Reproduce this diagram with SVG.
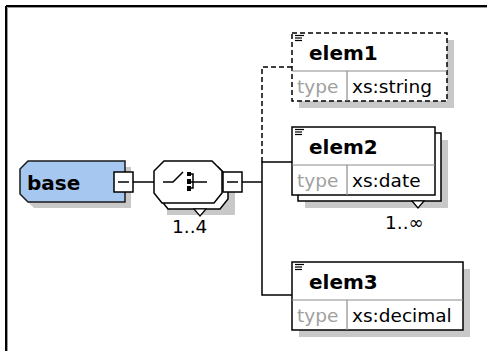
<svg xmlns="http://www.w3.org/2000/svg" width="487" height="351" viewBox="0 0 487 351">
<style>
.ln{stroke:#000;stroke-width:1.5;fill:none}
.dash{stroke:#000;stroke-width:1.5;fill:none;stroke-dasharray:5,3}
.box{fill:#fff;stroke:#000;stroke-width:1.5}
.sh{fill:#c8c8c8}
.div{stroke:#8c8c8c;stroke-width:1.2}
.nm{font-family:"DejaVu Sans",Verdana,sans-serif;font-weight:bold;font-size:20px;fill:#000}
.ty{font-family:"DejaVu Sans",Verdana,sans-serif;font-size:18.5px;fill:#a0a0a0}
.vl{font-family:"DejaVu Sans",Verdana,sans-serif;font-size:18.5px;fill:#000}
.oc{font-family:"DejaVu Sans",Verdana,sans-serif;font-size:18.5px;fill:#000}
.doc{stroke:#000;stroke-width:1.2}
</style>
<rect width="487" height="351" fill="#fff"/>
<g id="frame">
<line x1="6" y1="6" x2="487" y2="6" stroke="#000" stroke-width="2"/>
<line x1="6" y1="6" x2="6" y2="351" stroke="#000" stroke-width="2"/>
<line x1="7.5" y1="7.5" x2="487" y2="7.5" stroke="#999" stroke-width="1"/>
<line x1="7.5" y1="7.5" x2="7.5" y2="351" stroke="#999" stroke-width="1"/>
</g>
<g id="connectors">
<line class="ln" x1="133" y1="182" x2="154" y2="182"/>
<line class="ln" x1="242" y1="182" x2="262" y2="182"/>
<polyline class="ln" points="292,162 262,162 262,295 292,295"/>
<polyline class="dash" points="262,162 262,67 292,67"/>
</g>
<g id="base">
<polygon class="sh" points="34,167 131,167 131,208 34,208 26,200 26,175"/>
<polygon points="28,161 125,161 125,202 28,202 20,194 20,169" fill="#a6c8f0" stroke="#1a1a1a" stroke-width="1.5"/>
<text class="nm" x="27" y="190">base</text>
<rect class="box" x="114" y="172" width="19" height="20"/>
<line class="ln" x1="118" y1="182" x2="129" y2="182"/>
</g>
<g id="sequence">
<polygon class="sh" points="177,179 227,179 235,187 235,215 167,215 167,187"/>
<polygon class="box" points="170,167 218,167 228,177 228,199 220,209 168,209 160,199 160,177"/>
<polygon fill="#fff" stroke="#000" stroke-width="1.2" points="194,209 206,209 200,216"/>
<polygon class="box" points="164,161 212,161 222,171 222,193 214,203 162,203 154,193 154,171"/>
<polyline class="ln" points="163,182 173,182 183,172"/>
<rect x="187" y="172" width="4" height="4" fill="#000"/>
<rect x="187" y="179" width="4" height="5" fill="#000"/>
<rect x="187" y="186" width="4" height="5" fill="#000"/>
<polyline class="ln" points="191,174 193,174 193,188 191,188"/>
<line class="ln" x1="191" y1="182" x2="207" y2="182"/>
<rect class="box" x="223" y="172" width="19" height="20"/>
<line class="ln" x1="227" y1="182" x2="238" y2="182"/>
<text class="oc" x="172" y="233">1..4</text>
</g>
<g id="elem1">
<rect class="sh" x="299" y="40" width="155" height="68"/>
<rect x="292" y="33" width="155" height="68" fill="#fff" stroke="#000" stroke-width="1.5" stroke-dasharray="5,3"/>
<line class="div" x1="292" y1="71" x2="447" y2="71"/>
<line class="div" x1="347" y1="71" x2="347" y2="101"/>
<line class="doc" x1="295" y1="35.5" x2="304" y2="35.5"/>
<line class="doc" x1="295" y1="38" x2="302" y2="38"/>
<line class="doc" x1="295" y1="40.5" x2="302" y2="40.5"/>
<text class="nm" x="309" y="60">elem1</text>
<text class="ty" x="297" y="93">type</text>
<text class="vl" x="352" y="93">xs:string</text>
</g>
<g id="elem2">
<rect class="sh" x="305" y="140" width="143" height="68"/>
<rect class="box" x="298" y="133" width="143" height="68"/>
<polygon fill="#fff" stroke="#000" stroke-width="1.2" points="412,201 424,201 418,208"/>
<rect class="box" x="292" y="127" width="143" height="68"/>
<line class="div" x1="292" y1="165" x2="435" y2="165"/>
<line class="div" x1="347" y1="165" x2="347" y2="195"/>
<line class="doc" x1="295" y1="129.5" x2="304" y2="129.5"/>
<line class="doc" x1="295" y1="132" x2="302" y2="132"/>
<line class="doc" x1="295" y1="134.5" x2="302" y2="134.5"/>
<text class="nm" x="309" y="154">elem2</text>
<text class="ty" x="297" y="187">type</text>
<text class="vl" x="352" y="187">xs:date</text>
<text class="oc" x="385" y="229">1..∞</text>
</g>
<g id="elem3">
<rect class="sh" x="299" y="269" width="171" height="68"/>
<rect class="box" x="292" y="262" width="171" height="68"/>
<line class="div" x1="292" y1="300" x2="463" y2="300"/>
<line class="div" x1="347" y1="300" x2="347" y2="330"/>
<line class="doc" x1="295" y1="264.5" x2="304" y2="264.5"/>
<line class="doc" x1="295" y1="267" x2="302" y2="267"/>
<line class="doc" x1="295" y1="269.5" x2="302" y2="269.5"/>
<text class="nm" x="309" y="289">elem3</text>
<text class="ty" x="297" y="322">type</text>
<text class="vl" x="352" y="322">xs:decimal</text>
</g>
</svg>
